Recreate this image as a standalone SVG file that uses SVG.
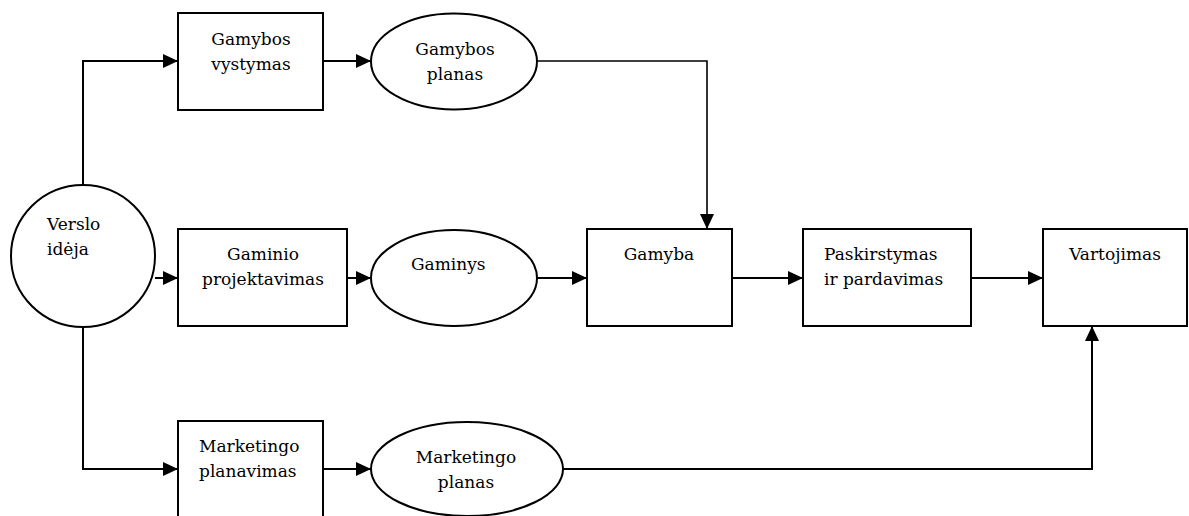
<svg xmlns="http://www.w3.org/2000/svg" width="1189" height="516" viewBox="0 0 1189 516">
<style>
.shape{fill:#fff;stroke:#000;stroke-width:2}
.c{text-anchor:middle}
.conn{fill:none;stroke:#000;stroke-width:2}
</style>
<defs>
<marker id="ah" viewBox="0 0 15 14" refX="15" refY="7" markerWidth="15" markerHeight="14" markerUnits="userSpaceOnUse" orient="auto">
<path d="M0,0 L15,7 L0,14 Z" fill="#000"/>
</marker>
</defs>
<rect width="1189" height="516" fill="#fff"/>
<g id="connectors">
<path class="conn" d="M83,185 L83,61 L178,61" marker-end="url(#ah)"/>
<path class="conn" d="M83,327 L83,469 L178,469" marker-end="url(#ah)"/>
<path class="conn" d="M155,278 L178,278" marker-end="url(#ah)"/>
<path class="conn" d="M323,61 L371,61" marker-end="url(#ah)"/>
<path class="conn" d="M347,278 L371,278" marker-end="url(#ah)"/>
<path class="conn" d="M323,469 L371,469" marker-end="url(#ah)"/>
<path class="conn" d="M537,61 L707,61 L707,229" marker-end="url(#ah)" style="stroke-width:1.6"/>
<path class="conn" d="M537,278 L587,278" marker-end="url(#ah)"/>
<path class="conn" d="M732,278 L803,278" marker-end="url(#ah)"/>
<path class="conn" d="M971,278 L1043,278" marker-end="url(#ah)"/>
<path class="conn" d="M563,469 L1092,469 L1092,326" marker-end="url(#ah)"/>
</g>
<g font-family="DejaVu Serif, serif" font-size="17" fill="#000">
<g id="verslo-ideja">
<ellipse class="shape" cx="83" cy="256" rx="72" ry="71"/>
<text x="47" y="230">Verslo</text>
<text x="47" y="255">idėja</text>
</g>
<g id="gamybos-vystymas">
<rect class="shape" x="178" y="13" width="145" height="97"/>
<text class="c" x="251" y="45">Gamybos</text>
<text class="c" x="251" y="70">vystymas</text>
</g>
<g id="gamybos-planas">
<ellipse class="shape" cx="454" cy="61.5" rx="83" ry="48"/>
<text class="c" x="455" y="55">Gamybos</text>
<text class="c" x="455" y="80">planas</text>
</g>
<g id="gaminio-projektavimas">
<rect class="shape" x="178" y="229" width="169" height="97"/>
<text class="c" x="263" y="260">Gaminio</text>
<text class="c" x="263" y="285">projektavimas</text>
</g>
<g id="gaminys">
<ellipse class="shape" cx="454" cy="278" rx="83" ry="48"/>
<text x="411" y="270">Gaminys</text>
</g>
<g id="gamyba">
<rect class="shape" x="587" y="229" width="145" height="97"/>
<text class="c" x="659" y="260">Gamyba</text>
</g>
<g id="paskirstymas">
<rect class="shape" x="803" y="229" width="168" height="97"/>
<text x="824" y="260">Paskirstymas</text>
<text x="824" y="285">ir pardavimas</text>
</g>
<g id="vartojimas">
<rect class="shape" x="1043" y="229" width="144" height="97"/>
<text class="c" x="1115" y="260">Vartojimas</text>
</g>
<g id="marketingo-planavimas">
<rect class="shape" x="178" y="421" width="145" height="110"/>
<text x="199" y="452">Marketingo</text>
<text x="199" y="477">planavimas</text>
</g>
<g id="marketingo-planas">
<ellipse class="shape" cx="467" cy="469" rx="96" ry="47"/>
<text class="c" x="466" y="463">Marketingo</text>
<text class="c" x="466" y="488">planas</text>
</g>
</g>
</svg>
